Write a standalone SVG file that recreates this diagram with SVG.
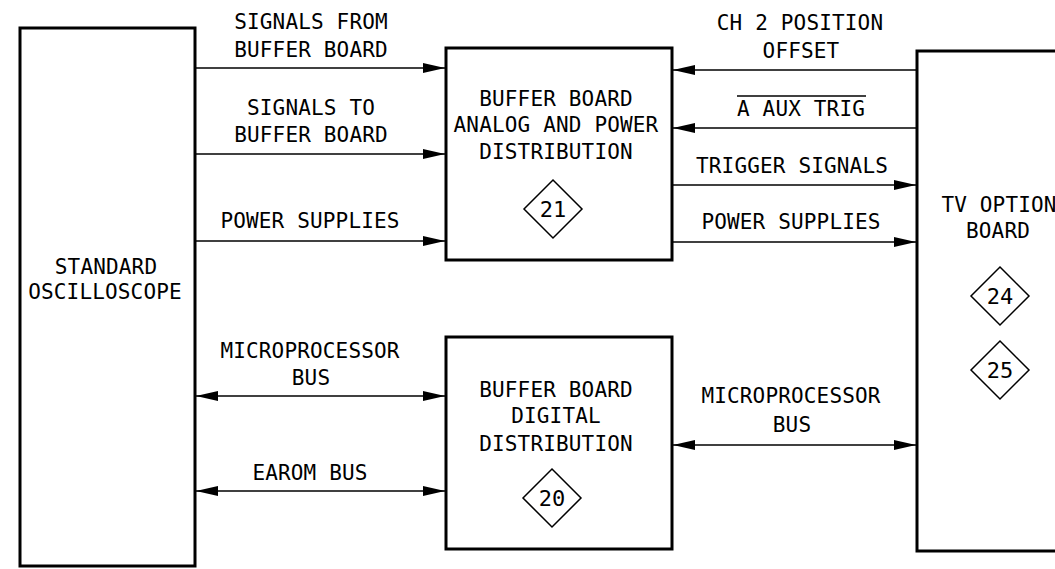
<svg xmlns="http://www.w3.org/2000/svg" width="1055" height="569" viewBox="0 0 1055 569">
<style>
.box{fill:#fff;stroke:#000;stroke-width:3}
.wire{stroke:#000;stroke-width:1.5;fill:none}
.dia{fill:#fff;stroke:#000;stroke-width:1.5}
text{font-family:"DejaVu Sans Mono","Liberation Mono",monospace;font-size:21px;letter-spacing:0.16px;text-anchor:middle;fill:#000}
text.num{font-size:22px;letter-spacing:0}
</style>
<defs>
<marker id="ah" markerUnits="userSpaceOnUse" markerWidth="22" markerHeight="10" refX="22" refY="5" orient="auto-start-reverse">
<path d="M0,0 L22,5 L0,10 Z" fill="#000"/>
</marker>
</defs>
<rect width="1055" height="569" fill="#fff"/>

<g id="oscilloscope">
<rect class="box" x="20" y="28" width="175" height="538"/>
<text x="106" y="274">STANDARD</text>
<text x="105" y="299">OSCILLOSCOPE</text>
</g>

<g id="buffer-analog">
<rect class="box" x="446" y="48" width="226" height="212"/>
<text x="556" y="106">BUFFER BOARD</text>
<text x="556" y="132">ANALOG AND POWER</text>
<text x="556" y="159">DISTRIBUTION</text>
<polygon class="dia" points="553,180 582,209 553,238 524,209"/>
<text class="num" x="553" y="217">21</text>
</g>

<g id="buffer-digital">
<rect class="box" x="446" y="337" width="226" height="212"/>
<text x="556" y="397">BUFFER BOARD</text>
<text x="556" y="423">DIGITAL</text>
<text x="556" y="451">DISTRIBUTION</text>
<polygon class="dia" points="552,469 581,498 552,527 523,498"/>
<text class="num" x="552" y="506">20</text>
</g>

<g id="tv-option">
<rect class="box" x="917" y="51" width="170" height="500"/>
<text x="999" y="212">TV OPTION</text>
<text x="998" y="238">BOARD</text>
<polygon class="dia" points="1000,267 1029,296 1000,325 971,296"/>
<text class="num" x="1000" y="304">24</text>
<polygon class="dia" points="1000,341 1029,370 1000,399 971,370"/>
<text class="num" x="1000" y="378">25</text>
</g>

<g id="connectors">
<line class="wire" x1="196" y1="68" x2="445" y2="68" marker-end="url(#ah)"/>
<line class="wire" x1="196" y1="154" x2="445" y2="154" marker-end="url(#ah)"/>
<line class="wire" x1="196" y1="241" x2="445" y2="241" marker-end="url(#ah)"/>
<line class="wire" x1="196" y1="396" x2="445" y2="396" marker-start="url(#ah)" marker-end="url(#ah)"/>
<line class="wire" x1="196" y1="491" x2="445" y2="491" marker-start="url(#ah)" marker-end="url(#ah)"/>
<line class="wire" x1="916" y1="70" x2="673" y2="70" marker-end="url(#ah)"/>
<line class="wire" x1="916" y1="128" x2="673" y2="128" marker-end="url(#ah)"/>
<line class="wire" x1="673" y1="185" x2="916" y2="185" marker-end="url(#ah)"/>
<line class="wire" x1="673" y1="242" x2="916" y2="242" marker-end="url(#ah)"/>
<line class="wire" x1="673" y1="445" x2="916" y2="445" marker-start="url(#ah)" marker-end="url(#ah)"/>
<text x="311" y="29">SIGNALS FROM</text>
<text x="311" y="57">BUFFER BOARD</text>
<text x="311" y="115">SIGNALS TO</text>
<text x="311" y="142">BUFFER BOARD</text>
<text x="310" y="228">POWER SUPPLIES</text>
<text x="310" y="358">MICROPROCESSOR</text>
<text x="311" y="385">BUS</text>
<text x="310" y="480">EAROM BUS</text>
<text x="800" y="30">CH 2 POSITION</text>
<text x="801" y="58">OFFSET</text>
<text x="801" y="116">A AUX TRIG</text>
<line class="wire" x1="737" y1="96" x2="866" y2="96"/>
<text x="792" y="173">TRIGGER SIGNALS</text>
<text x="791" y="229">POWER SUPPLIES</text>
<text x="791" y="403">MICROPROCESSOR</text>
<text x="792" y="432">BUS</text>
</g>
</svg>
